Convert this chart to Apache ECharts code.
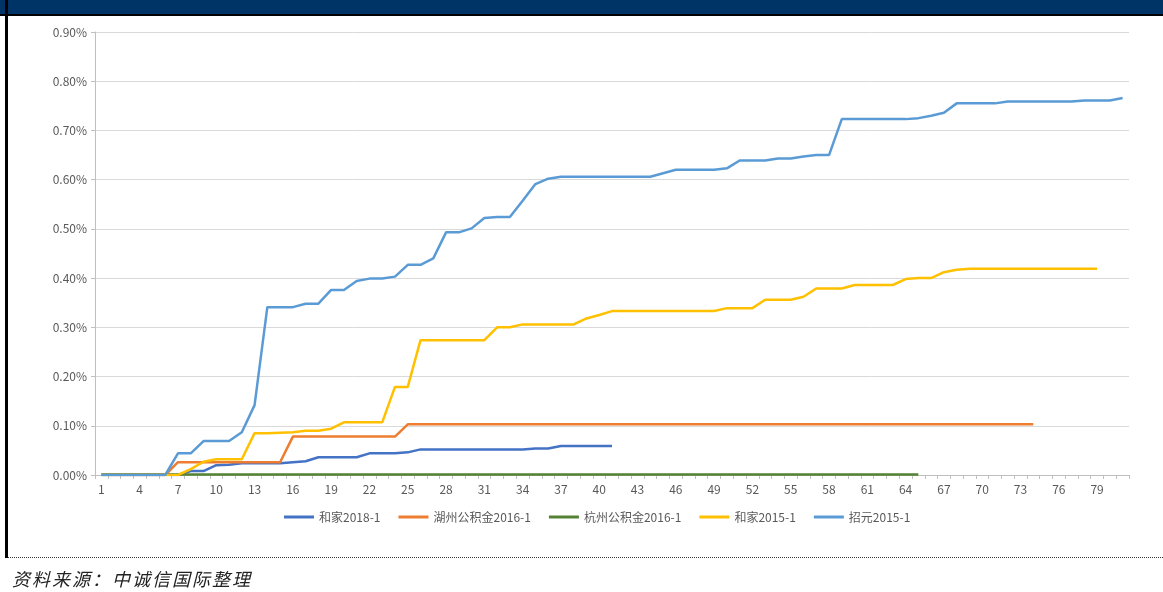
<!DOCTYPE html>
<html>
<head>
<meta charset="utf-8">
<script src="https://cdn.jsdelivr.net/npm/echarts@6/dist/echarts.min.js"></script>
<style>
  html, body { margin: 0; padding: 0; background: #fff; }
  #wrap { position: relative; width: 1163px; height: 592px; overflow: hidden; }
  #chart { position: absolute; left: 0; top: 0; width: 1163px; height: 592px; }
  .band { position: absolute; left: 0; top: 0; width: 1163px; height: 14px; background: #003366; }
  .band-line { position: absolute; left: 0; top: 14px; width: 1163px; height: 2px; background: #000; }
  .left-bar { position: absolute; left: 5px; top: 0; width: 3px; height: 558px; background: #000; }
  .dots { position: absolute; left: 8px; top: 557px; width: 1155px; height: 0; border-top: 1px dotted #333; }
  .source { position: absolute; left: 12px; top: 565px; font: italic 18px "Noto Sans CJK SC", sans-serif; color: #222; letter-spacing: 2px; }
</style>
</head>
<body>
<div id="wrap">
  <div id="chart"></div>
  <div class="band"></div>
  <div class="band-line"></div>
  <div class="left-bar"></div>
  <div class="dots"></div>
  <div class="source">资料来源：中诚信国际整理</div>
</div>
<script>
  // 期数 1..81
  var periods = [1,2,3,4,5,6,7,8,9,10,11,12,13,14,15,16,17,18,19,20,
    21,22,23,24,25,26,27,28,29,30,31,32,33,34,35,36,37,38,39,40,
    41,42,43,44,45,46,47,48,49,50,51,52,53,54,55,56,57,58,59,60,
    61,62,63,64,65,66,67,68,69,70,71,72,73,74,75,76,77,78,79,80,81];

  // 累计违约率 (%)
  var hejia2018 = [0,0,0,0,0,0,0,0.008,0.008,0.020,
    0.021,0.024,0.024,0.024,0.024,0.026,0.028,0.036,0.036,0.036,
    0.036,0.044,0.044,0.044,0.046,0.052,0.052,0.052,0.052,0.052,
    0.052,0.052,0.052,0.052,0.054,0.054,0.059,0.059,0.059,0.059,
    0.059];
  var huzhou2016 = [0,0,0,0,0,0,0.026,0.026,0.026,0.026,
    0.026,0.026,0.026,0.026,0.026,0.078,0.078,0.078,0.078,0.078,
    0.078,0.078,0.078,0.078,0.103,0.103,0.103,0.103,0.103,0.103,
    0.103,0.103,0.103,0.103,0.103,0.103,0.103,0.103,0.103,0.103,
    0.103,0.103,0.103,0.103,0.103,0.103,0.103,0.103,0.103,0.103,
    0.103,0.103,0.103,0.103,0.103,0.103,0.103,0.103,0.103,0.103,
    0.103,0.103,0.103,0.103,0.103,0.103,0.103,0.103,0.103,0.103,
    0.103,0.103,0.103,0.103];
  var hangzhou2016 = [0.001,0.001,0.001,0.001,0.001,0.001,0.001,0.001,0.001,0.001,
    0.001,0.001,0.001,0.001,0.001,0.001,0.001,0.001,0.001,0.001,
    0.001,0.001,0.001,0.001,0.001,0.001,0.001,0.001,0.001,0.001,
    0.001,0.001,0.001,0.001,0.001,0.001,0.001,0.001,0.001,0.001,
    0.001,0.001,0.001,0.001,0.001,0.001,0.001,0.001,0.001,0.001,
    0.001,0.001,0.001,0.001,0.001,0.001,0.001,0.001,0.001,0.001,
    0.001,0.001,0.001,0.001,0.001];
  var hejia2015 = [0,0,0,0,0,0,0,0.012,0.027,0.032,
    0.032,0.032,0.085,0.085,0.086,0.087,0.090,0.090,0.094,0.107,
    0.107,0.107,0.107,0.179,0.179,0.274,0.274,0.274,0.274,0.274,
    0.274,0.300,0.300,0.306,0.306,0.306,0.306,0.306,0.318,0.325,
    0.333,0.333,0.333,0.333,0.333,0.333,0.333,0.333,0.333,0.339,
    0.339,0.339,0.356,0.356,0.356,0.362,0.379,0.379,0.379,0.386,
    0.386,0.386,0.386,0.398,0.400,0.400,0.412,0.417,0.419,0.419,
    0.419,0.419,0.419,0.419,0.419,0.419,0.419,0.419,0.419];
  var zhaoyuan2015 = [0,0,0,0,0,0,0.044,0.044,0.069,0.069,
    0.069,0.087,0.142,0.341,0.341,0.341,0.348,0.348,0.376,0.376,
    0.394,0.399,0.399,0.403,0.427,0.427,0.440,0.493,0.493,0.501,
    0.522,0.524,0.524,0.557,0.591,0.602,0.606,0.606,0.606,0.606,
    0.606,0.606,0.606,0.606,0.613,0.620,0.620,0.620,0.620,0.623,
    0.639,0.639,0.639,0.643,0.643,0.647,0.650,0.650,0.723,0.723,
    0.723,0.723,0.723,0.723,0.725,0.730,0.736,0.755,0.755,0.755,
    0.755,0.759,0.759,0.759,0.759,0.759,0.759,0.761,0.761,0.761,
    0.766];

  var seriesNames = ['和家2018-1', '湖州公积金2016-1', '杭州公积金2016-1', '和家2015-1', '招元2015-1'];
  var seriesData = [hejia2018, huzhou2016, hangzhou2016, hejia2015, zhaoyuan2015];
  var colors = ['#4472C4', '#ED7D31', '#548235', '#FFC000', '#5B9BD5'];

  var labelFont = "'Liberation Sans Narrow', 'Noto Sans CJK SC', sans-serif";

  var chart = echarts.init(document.getElementById('chart'));
  chart.setOption({
    animation: false,
    color: colors,
    grid: { left: 95, right: 34, top: 32, bottom: 117, containLabel: false },
    legend: {
      data: seriesNames,
      left: 279,
      top: 506,
      itemWidth: 30,
      itemHeight: 3,
      itemGap: 18,
      icon: 'rect',
      textStyle: { color: '#595959', fontSize: 12, fontFamily: labelFont }
    },
    xAxis: {
      type: 'category',
      data: periods,
      boundaryGap: true,
      axisLine: { lineStyle: { color: '#BFBFBF', width: 1 } },
      axisTick: { show: true, interval: 0, length: 4, lineStyle: { color: '#BFBFBF' } },
      axisLabel: { interval: 2, color: '#595959', fontSize: 12, fontFamily: labelFont, margin: 8 },
      splitLine: { show: false }
    },
    yAxis: {
      type: 'value',
      min: 0,
      max: 0.9,
      interval: 0.1,
      axisLine: { show: true, lineStyle: { color: '#BFBFBF' } },
      axisTick: { show: true, length: 4, lineStyle: { color: '#BFBFBF' } },
      axisLabel: {
        color: '#595959', fontSize: 12, fontFamily: labelFont, margin: 8,
        formatter: function (v) { return v.toFixed(2) + '%'; }
      },
      splitLine: { lineStyle: { color: '#D9D9D9', width: 1 } }
    },
    series: seriesNames.map(function (name, i) {
      return {
        name: name,
        type: 'line',
        data: seriesData[i],
        showSymbol: false,
        symbol: 'none',
        lineStyle: { width: 2.5, color: colors[i] },
        emphasis: { disabled: true }
      };
    })
  });
</script>
</body>
</html>
